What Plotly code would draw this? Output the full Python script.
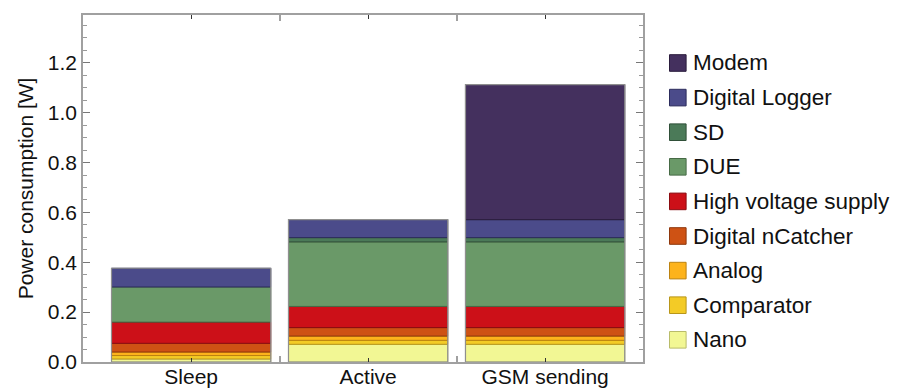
import numpy as np
import plotly.graph_objects as go

# Operating modes (x categories)
categories = ["Sleep", "Active", "GSM sending"]

# Components, listed bottom of the stack first
components = ["Nano", "Comparator", "Analog", "Digital nCatcher",
              "High voltage supply", "DUE", "SD", "Digital Logger", "Modem"]

# Power draw per component [W] for Sleep, Active, GSM sending
nano = [0.012, 0.071, 0.071]
comparator = [0.014, 0.016, 0.016]
analog = [0.014, 0.017, 0.017]
digital_ncatcher = [0.035, 0.034, 0.034]
high_voltage_supply = [0.085, 0.085, 0.085]
due = [0.141, 0.259, 0.259]
sd = [0.0, 0.017, 0.017]
digital_logger = [0.075, 0.072, 0.072]
modem = [0.0, 0.0, 0.542]

y_ticks = [0.0, 0.2, 0.4, 0.6, 0.8, 1.0, 1.2]

fill_colors = ["#F2F794", "#F3CB26", "#FDB31B", "#CE5214", "#CC1018",
               "#6A9968", "#4B7A58", "#4B4B8A", "#44305E"]
edge_colors = ["#B9BC6A", "#B8961A", "#BC8210", "#8E370C", "#8A0B10",
               "#466A45", "#2F4F38", "#2C2C5C", "#2A1C3C"]

values = np.array([nano, comparator, analog, digital_ncatcher,
                   high_voltage_supply, due, sd, digital_logger, modem])
bases = np.vstack([np.zeros(values.shape[1]), np.cumsum(values, axis=0)[:-1]])
totals = values.sum(axis=0)
xpos = np.arange(len(categories))
bar_width = 0.9

FONT = "Liberation Sans, Arial, sans-serif"

fig = go.Figure()
for name, v, b, fc, ec in zip(components, values, bases, fill_colors, edge_colors):
    fig.add_bar(
        x=xpos, y=[val if val > 0 else None for val in v], base=b,
        width=bar_width, name=name,
        marker=dict(color=fc, line=dict(color=ec, width=1)),
        showlegend=False,
    )

# grey outline around each whole stacked bar
fig.add_bar(
    x=xpos, y=totals, base=0, width=bar_width,
    marker=dict(color="rgba(0,0,0,0)", line=dict(color="#8f8f8f", width=1.2)),
    hoverinfo="skip", showlegend=False,
)

# plot-area geometry in pixels (used to place the legend box)
W, H = 897, 390
L, R, T, B = 83, 643, 15, 362


def px_x(p):
    return (p - L) / (R - L)


def px_y(p):
    return (B - p) / (B - T)


shapes = []
annotations = []
row0, row_step, sw = 63.0, 34.6, 16.6
for i, (name, fc, ec) in enumerate(zip(components[::-1], fill_colors[::-1], edge_colors[::-1])):
    cy = row0 + i * row_step
    shapes.append(dict(
        type="rect", xref="paper", yref="paper",
        x0=px_x(669.5), x1=px_x(669.5 + sw),
        y0=px_y(cy + sw / 2), y1=px_y(cy - sw / 2),
        fillcolor=fc, line=dict(color=ec, width=1),
    ))
    annotations.append(dict(
        xref="paper", yref="paper", x=px_x(691), y=px_y(cy),
        text=name, showarrow=False, xanchor="left", yanchor="middle",
        font=dict(family=FONT, size=22.5, color="#111111"),
    ))

fig.update_layout(
    width=W, height=H,
    margin=dict(l=L, r=W - R, t=T, b=H - B),
    barmode="overlay",
    plot_bgcolor="white", paper_bgcolor="white",
    font=dict(family=FONT, size=21, color="#111111"),
    shapes=shapes, annotations=annotations,
    showlegend=False,
)

fig.update_xaxes(
    automargin=False,
    range=[-0.611, 2.553],
    tickmode="array", tickvals=xpos, ticktext=categories,
    ticks="inside", ticklen=4, tickcolor="#333333", tickwidth=1,
    minor=dict(tickmode="array", tickvals=xpos[:-1] + 0.5, ticks="inside",
               ticklen=6, tickcolor="#a0a0a0", tickwidth=1.5),
    showline=True, linecolor="#a0a0a0", linewidth=1.5, mirror="ticks",
    showgrid=False, zeroline=False,
    ticklabelstandoff=-5,
    tickfont=dict(family=FONT, size=21, color="#111111"),
)

fig.update_yaxes(
    automargin=False,
    range=[0, 1.392],
    tickmode="array", tickvals=y_ticks, tickformat=".1f",
    ticks="inside", ticklen=7, tickcolor="#777777", tickwidth=1,
    minor=dict(dtick=0.05, tick0=0, ticks="inside", ticklen=4,
               tickcolor="#999999", tickwidth=1),
    showline=True, linecolor="#a0a0a0", linewidth=1.5, mirror="ticks",
    showgrid=False, zeroline=False,
    tickfont=dict(family=FONT, size=21, color="#111111"),
    title=dict(text="Power consumption [W]", standoff=8,
               font=dict(family=FONT, size=21, color="#111111")),
)

fig.write_html("out.html")
